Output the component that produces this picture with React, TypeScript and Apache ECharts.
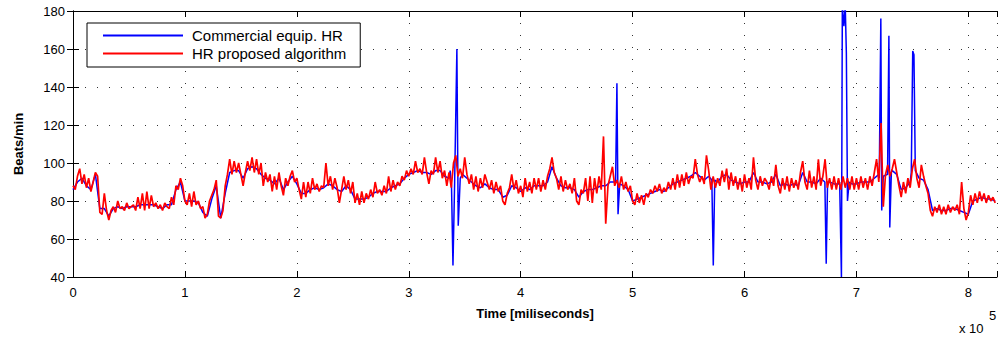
import React, { useEffect, useRef } from "react";
import * as echarts from "echarts";

// HR from the proposed algorithm, one reading every 2000 ms
const redValues = [
  88, 86, 93, 97, 89, 94, 87, 92, 85, 90,
  95, 93, 74, 73, 84, 75, 70, 75, 77, 74,
  80, 76, 77, 75, 79, 76, 77, 78, 75, 82,
  76, 84, 75, 85, 76, 83, 77, 79, 76, 78,
  75, 79, 77, 76, 82, 78, 88, 86, 92, 88,
  80, 78, 84, 77, 85, 78, 80, 76, 77, 71,
  73, 80, 83, 86, 91, 72, 71, 75, 88, 94,
  102, 94, 101, 95, 100, 94, 88, 95, 101, 96,
  103, 95, 102, 94, 100, 88, 95, 90, 94, 85,
  93, 86, 95, 88, 83, 92, 88, 93, 96, 90,
  92, 86, 81, 90,
  82, 90, 84, 92, 86, 89, 85, 88, 87, 100,
  88, 93, 86, 92, 87, 79, 86, 93, 86, 91,
  84, 90, 79, 84, 78, 85, 79, 84, 81, 86,
  82, 90, 84, 86, 83, 88, 84, 93, 85, 91,
  86, 90, 88, 93, 91, 96, 93, 97, 94, 101,
  95, 97, 94, 103, 95, 89, 96, 94, 103, 95,
  101, 92, 96, 88, 95, 87, 100, 104, 93, 97,
  92, 103, 94, 89, 94, 86, 93, 85, 92, 87,
  94, 90, 86, 91, 84, 90, 85, 88, 80, 78,
  84, 87, 94, 86, 91, 84, 88, 82, 92, 85,
  90, 84, 92,
  86, 92, 85, 91, 86, 93, 97, 103, 95, 92,
  86, 93, 85, 91, 86, 89, 84, 92, 80, 78,
  86, 84, 92, 80, 93, 79, 92, 84, 93, 86,
  114, 68, 88, 93, 98, 88, 91, 87, 93, 86,
  90, 85, 88, 80, 78, 84, 79, 83, 78, 84,
  82, 86, 84, 88, 85, 89, 84, 87, 85, 90,
  86, 92, 86, 94, 87, 94, 88, 95, 89, 93,
  92, 102, 94, 90, 93, 89, 104, 96, 86, 93,
  87, 92, 88, 96, 90, 97, 86, 95, 88, 93,
  86, 92, 85, 94, 87, 92, 86, 103, 91, 86,
  93, 88, 92,
  90, 86, 93, 88, 99, 88, 84, 92, 86, 93,
  85, 92, 87, 91, 86, 95, 101, 90, 86, 96,
  87, 93, 86, 102, 88, 93, 102, 87, 92, 86,
  93, 86, 92, 86, 93, 87, 92, 86, 93, 86,
  92, 86, 93, 87, 92, 86, 93, 88, 95, 102,
  90, 121, 77, 94, 99, 93, 97, 102, 95, 88,
  82, 90, 84, 92, 87, 97, 102, 92, 87, 99,
  93, 88, 84, 75, 72, 77, 74, 78, 73, 77,
  73, 78, 74, 77, 75, 78, 73, 90, 76, 70,
  74, 83, 78, 84, 79, 85, 80, 84, 79, 83,
  80, 82, 79,
];
const RED_STEP_MS = 2000;

// HR from the commercial equipment, one reading every 4000 ms
const blueValues = [
  86, 90, 92, 88, 86, 94, 76, 76, 72, 76,
  77, 76, 77, 77, 77, 78, 78, 78, 78, 77,
  76, 78, 78, 86, 90, 80, 80, 80, 79, 74,
  72, 81, 88, 71, 84, 95, 96, 96, 92, 97,
  98, 97, 94, 92, 91, 89, 92, 86, 90, 93,
  89, 84,
  84, 86, 87, 86, 87, 89, 88, 86, 85, 88,
  86, 81, 81, 81, 82, 84, 85, 85, 85, 87,
  88, 89, 92, 94, 95, 96, 95, 95, 94, 96,
  96, 93, 92, 92, 94, 94, 92, 90, 88, 87,
  89, 87, 86, 86, 82, 83, 88, 87, 85, 87,
  86, 88,
  88, 88, 90, 98, 92, 88, 87, 87, 86, 82,
  85, 86, 86, 87, 88, 88, 90, 90, 89, 88,
  86, 80, 81, 82, 83, 84, 85, 86, 85, 87,
  89, 90, 91, 92, 93, 95, 93, 91, 93, 91,
  90, 93, 94, 91, 90, 89, 90, 90, 95, 90,
  90,
  89, 90, 94, 88, 89, 88, 89, 88, 95, 90,
  90, 89, 92, 93, 90, 89, 89, 89, 89, 89,
  89, 90, 90, 90, 92, 94, 93, 95, 96, 94,
  86, 87, 90, 96, 92, 91, 86, 75, 76, 75,
  75, 76, 76, 75, 74, 73, 80, 81, 82, 81,
  81, 80,
];
const BLUE_STEP_MS = 4000;

// Artefact spikes of the commercial equipment: [time ms, beats/min]
const blueSpikes = [
  [[336000, 92], [337000, 96], [338200, 88], [339500, 46], [341000, 90], [343000, 160], [344200, 67], [346000, 92]],
  [[484800, 90], [486000, 142], [487000, 73], [488500, 89]],
  [[570800, 91], [572100, 46], [573400, 91]],
  [[671800, 90], [673000, 47], [674200, 90]],
  [[685000, 90], [686600, 40], [687400, 183], [688800, 172], [690000, 183], [691000, 158], [692000, 80], [693500, 90]],
  [[720400, 92], [721800, 176], [722600, 75], [724000, 93]],
  [[727800, 94], [729000, 167], [729800, 66], [731200, 95]],
  [[749000, 95], [750300, 159], [751400, 157], [752600, 96]],
];

const seriesNames = ["Commercial equip. HR", "HR proposed algorithm"];
const X_MAX = 825600;
const X_TICK = 100000;
const Y_MIN = 40;
const Y_MAX = 180;
const Y_TICK = 20;

const FONT = "'Liberation Sans', Arial, Helvetica, sans-serif";

function buildBlue(): number[][] {
  const base = blueValues
    .map((v, j) => [j * BLUE_STEP_MS, v])
    .filter(([t]) =>
      !blueSpikes.some((g) => t >= g[0][0] && t <= g[g.length - 1][0])
    );
  const pts = base.concat(...blueSpikes);
  pts.sort((a, b) => a[0] - b[0]);
  return pts;
}

export default function App() {
  const ref = useRef<HTMLDivElement>(null);
  useEffect(() => {
    if (!ref.current) return;
    const chart = echarts.init(ref.current, undefined, { renderer: "svg" });
    const red = redValues.map((v, k) => [k * RED_STEP_MS, v]);
    const blue = buildBlue();
    const dotted = { color: "#333", width: 1, type: [1, 11] as number[] };
    const axisLine = { show: true, lineStyle: { color: "#000", width: 1 } };
    const tickX = { show: true, inside: true, length: 6, lineStyle: { color: "#000" } };
    chart.setOption({
      animation: false,
      backgroundColor: "#fff",
      grid: { left: 73, right: 2, top: 11, bottom: 62, containLabel: false },
      legend: {
        left: 87,
        top: 23,
        orient: "vertical",
        icon: "rect",
        itemWidth: 80,
        itemHeight: 2,
        itemGap: 3,
        padding: [5, 14, 6, 16],
        borderColor: "#000",
        borderWidth: 1,
        backgroundColor: "#fff",
        textStyle: { fontSize: 15, color: "#000", fontFamily: FONT, padding: [0, 0, 0, 4] },
        data: [
          { name: seriesNames[0], itemStyle: { color: "#0000ff" } },
          { name: seriesNames[1], itemStyle: { color: "#ff0000" } },
        ],
      },
      xAxis: [
        {
          type: "value",
          min: 0,
          max: X_MAX,
          interval: X_TICK,
          name: "Time [miliseconds]",
          nameLocation: "middle",
          nameGap: 30,
          nameTextStyle: { fontSize: 13, fontWeight: "bold", color: "#000", fontFamily: FONT },
          axisLine,
          axisTick: tickX,
          axisLabel: {
            color: "#000",
            fontSize: 13,
            fontFamily: FONT,
            margin: 9,
            formatter: (v: number) => (v % X_TICK === 0 ? String(v / X_TICK) : ""),
          },
          splitLine: { show: true, lineStyle: dotted },
        },
        {
          type: "value",
          position: "top",
          min: 0,
          max: X_MAX,
          interval: X_TICK,
          axisLine,
          axisTick: tickX,
          axisLabel: { show: false },
          splitLine: { show: false },
        },
      ],
      yAxis: [
        {
          type: "value",
          min: Y_MIN,
          max: Y_MAX,
          interval: Y_TICK,
          name: "Beats/min",
          nameLocation: "middle",
          nameGap: 48,
          nameTextStyle: { fontSize: 13, fontWeight: "bold", color: "#000", fontFamily: FONT },
          axisLine,
          axisTick: tickX,
          axisLabel: { color: "#000", fontSize: 13, fontFamily: FONT, margin: 8 },
          splitLine: { show: true, lineStyle: dotted },
        },
        {
          type: "value",
          position: "right",
          min: Y_MIN,
          max: Y_MAX,
          interval: Y_TICK,
          axisLine,
          axisTick: tickX,
          axisLabel: { show: false },
          splitLine: { show: false },
        },
      ],
      series: [
        {
          name: seriesNames[0],
          type: "line",
          xAxisIndex: 0,
          yAxisIndex: 0,
          data: blue,
          showSymbol: false,
          symbol: "none",
          color: "#0000ff",
          itemStyle: { color: "#0000ff" },
          lineStyle: { color: "#0000ff", width: 1.5 },
          clip: true,
          z: 2,
        },
        {
          name: seriesNames[1],
          type: "line",
          xAxisIndex: 0,
          yAxisIndex: 0,
          data: red,
          showSymbol: false,
          symbol: "none",
          color: "#ff0000",
          itemStyle: { color: "#ff0000" },
          lineStyle: { color: "#ff0000", width: 1.7 },
          clip: true,
          z: 3,
        },
      ],
      graphic: [
        {
          type: "text",
          x: 959,
          y: 322,
          style: { text: "x 10", font: `13px ${FONT}`, fill: "#000", verticalAlign: "top" },
        },
        {
          type: "text",
          x: 989,
          y: 309,
          style: { text: "5", font: `13px ${FONT}`, fill: "#000", verticalAlign: "top" },
        },
      ],
    });
    return () => chart.dispose();
  }, []);
  return (
    <div
      ref={ref}
      style={{ position: "fixed", left: 0, top: 0, width: 1000, height: 339, background: "#fff" }}
    />
  );
}
